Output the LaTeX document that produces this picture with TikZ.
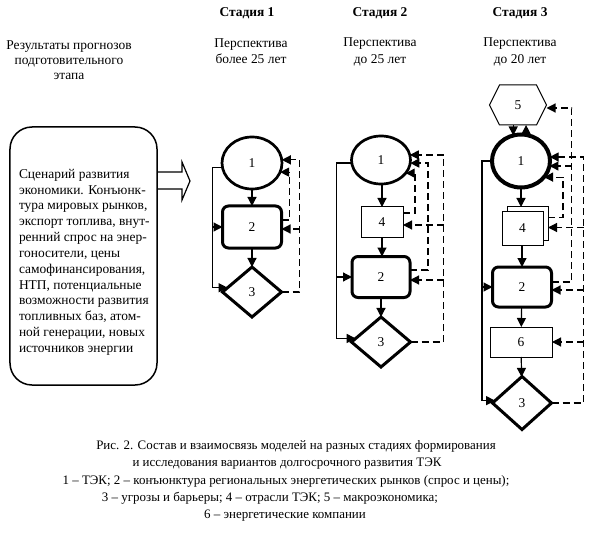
\documentclass[tikz,border=0pt]{standalone}
\usepackage{fontspec}
\setmainfont{Liberation Serif}
\usetikzlibrary{arrows.meta,shapes.geometric}
\begin{document}
\begin{tikzpicture}[x=1bp,y=-1bp,
  every node/.style={font=\fontsize{13.5}{15}\selectfont, inner sep=0pt, outer sep=0pt},
  ell/.style={draw, ellipse, line width=2.7bp},
  rbox/.style={draw, rectangle, rounded corners=6bp, line width=3bp},
  tbox/.style={draw, rectangle, line width=1bp, fill=white},
  dia/.style={draw, diamond, line width=3bp},
  sl/.style={line width=1.2bp},
  dl/.style={line width=1.2bp, dash pattern=on 7bp off 4bp},
  tip/.style={-{Triangle[length=9bp,width=9bp]}},
  hd/.style={font=\bfseries\fontsize{13.5}{15}\selectfont},
  pr/.style={align=center, font=\fontsize{13.5}{16.5}\selectfont},
  captext/.style={font=\fontsize{13}{15}\selectfont},
]
\useasboundingbox (0,0) rectangle (595,537);

% ---- left part ----
\node[pr, font=\fontsize{13.5}{15}\selectfont] (res) at (69,60) {Результаты прогнозов\\подготовительного\\этапа};
\node[draw, rounded corners=22bp, line width=1.5bp, minimum width=147bp, minimum height=258bp] (lbox) at (83.5,256) {};
\node[align=left, anchor=north west, font=\fontsize{13.5}{15.9}\selectfont] (ltext) at (19,169)
 {Сценарий развития\\экономики. Конъюнк-\\тура мировых рынков,\\экспорт топлива, внут-\\ренний спрос на энер-\\гоносители, цены\\самофинансирования,\\НТП, потенциальные\\возможности развития\\топливных баз, атом-\\ной генерации, новых\\источников энергии};
\draw[line width=1.2bp] (lbox.east |- 0,172) -- (182,172) -- (182,162) -- (190,181) -- (182,200) -- (182,189) -- (lbox.east |- 0,189);

% ---- headings ----
\node[hd] (h1) at (247,13) {Стадия 1};
\node[hd] (h2) at (380,13) {Стадия 2};
\node[hd] (h3) at (520,13) {Стадия 3};
\node[pr] (p1) at (251,51) {Перспектива\\более 25 лет};
\node[pr] (p2) at (380,52) {Перспектива\\до 25 лет};
\node[pr] (p3) at (520,52) {Перспектива\\до 20 лет};

% ---- stage 1 ----
\node[ell, minimum width=60bp, minimum height=52bp] (s1-1) at (252,163) {1};
\node[rbox, minimum width=59bp, minimum height=42bp] (s1-2) at (252,227) {2};
\node[dia, minimum width=59bp, minimum height=50bp] (s1-3) at (252,292) {3};
\draw[sl,tip] (s1-1) -- (s1-2);
\draw[sl,tip] (s1-2) -- (s1-3);
\coordinate (s1-L) at ([xshift=-10bp]s1-1.188);
\draw[sl,tip] (s1-1.188) -- (s1-L) |- (s1-3.170);
\draw[sl,tip] (s1-L |- s1-2.west) -- (s1-2.west);
\draw[dl,tip] (s1-3.east) -- ++(18,0) coordinate (s1-R) |- (s1-1.6);
\draw[dl,tip] ([yshift=7bp]s1-2.east) -- ++(8,0) |- (s1-1.-18);
\coordinate (s1-2in) at ([yshift=-2bp]s1-2.east);
\draw[dl,tip] (s1-R |- s1-2in) -- (s1-2in);

% ---- stage 2 ----
\node[ell, minimum width=59bp, minimum height=48bp] (s2-1) at (381,160) {1};
\node[tbox, minimum width=42bp, minimum height=30bp] (s2-4) at (382,222) {4};
\node[rbox, minimum width=58bp, minimum height=41bp] (s2-2) at (381,277) {2};
\node[dia, minimum width=59bp, minimum height=50bp] (s2-3) at (381,342) {3};
\draw[sl,tip] (s2-1.south -| s2-4) -- (s2-4);
\draw[sl,tip] (s2-4) -- (s2-4 |- s2-2.north);
\draw[sl,tip] (s2-2) -- (s2-3);
\coordinate (s2-L) at ([xshift=-15bp]s2-1.186);
\draw[sl,tip] (s2-1.186) -- (s2-L) |- (s2-3.172);
\draw[sl,tip] (s2-L |- s2-2.west) -- (s2-2.west);
\draw[dl,tip] (s2-3.east) -- ++(33,0) coordinate (s2-R) |- (s2-1.10);
\draw[dl,tip] ([yshift=7bp]s2-2.east) -- ++(18,0) |- (s2-1.-6);
\draw[dl,tip] ([yshift=9bp]s2-4.east) -- ++(12,0) |- (s2-1.-28);
\coordinate (s2-4in) at ([yshift=-3bp]s2-4.east);
\draw[dl,tip] (s2-R |- s2-4in) -- (s2-4in);
\coordinate (s2-2in) at ([yshift=-3bp]s2-2.east);
\draw[dl,tip] (s2-R |- s2-2in) -- (s2-2in);

% ---- stage 3 ----
\node[minimum width=57bp, minimum height=40bp] (s3-5) at (518,105) {5};
\draw[line width=1bp] ([xshift=10bp]s3-5.north west) -- ([xshift=-10bp]s3-5.north east) -- (s3-5.east)
  -- ([xshift=-10bp]s3-5.south east) -- ([xshift=10bp]s3-5.south west) -- (s3-5.west) -- cycle;
\node[ell, line width=4bp, minimum width=58bp, minimum height=53bp] (s3-1) at (521,161) {1};
\node[tbox, minimum width=41bp, minimum height=33bp] (s3-4b) at (527.5,223.5) {};
\node[tbox, minimum width=41bp, minimum height=33bp] (s3-4) at (522.5,228.5) {4};
\node[rbox, minimum width=59bp, minimum height=40bp] (s3-2) at (522,287) {2};
\node[tbox, minimum width=62bp, minimum height=30bp] (s3-6) at (521,342) {6};
\node[dia, minimum width=59bp, minimum height=53bp] (s3-3) at (522,403) {3};
\draw[sl,tip] (s3-5.south -| s3-1.107) -- (s3-1.107);
\draw[sl,tip] (s3-1.79) -- (s3-5.south -| s3-1.79);
\draw[sl,tip] (s3-1.south) -- (s3-1.south |- s3-4b.north);
\draw[sl,tip] (s3-4.south -| s3-2) -- (s3-2);
\draw[sl,tip] (s3-2) -- (s3-6);
\draw[sl,tip] (s3-6) -- (s3-3);
\coordinate (s3-L) at ([xshift=-10bp]s3-1.west);
\draw[sl,tip] (s3-1.west) -- (s3-L) |- (s3-3.175);
\draw[sl,tip] (s3-L |- s3-2.west) -- (s3-2.west);
\draw[dl,tip] (s3-3.east) -- ++(32,0) coordinate (s3-R) |- (s3-1.8);
\coordinate (s3-5in) at ([yshift=-3bp]s3-5.east);
\draw[dl,tip] ([yshift=5bp]s3-2.east) -- ++(20,0) coordinate (s3-M) |- (s3-5in);
\draw[dl,tip] (s3-M |- s3-1.-10) -- (s3-1.-10);
\draw[dl,tip] ([yshift=6bp]s3-4b.east) -- ++(15,0) |- (s3-1.-35);
\coordinate (s3-4in) at ([yshift=-4bp]s3-4b.east);
\draw[dl,tip] (s3-R |- s3-4in) -- (s3-4in);
\coordinate (s3-2in) at ([yshift=-3bp]s3-2.east);
\draw[dl,tip] (s3-R |- s3-2in) -- (s3-2in);
\draw[dl,tip] (s3-R |- s3-6.east) -- (s3-6.east);

% ---- caption ----
\node[captext] (c1) at (296,446) {Рис. 2. Состав и взаимосвязь моделей на разных стадиях формирования};
\node[captext] (c2) at (287,463.5) {и исследования вариантов долгосрочного развития ТЭК};
\node[captext] (c3) at (286,481) {1 – ТЭК; 2 – конъюнктура региональных энергетических рынков (спрос и цены);};
\node[captext] (c4) at (270,498.5) {3 – угрозы и барьеры; 4 – отрасли ТЭК; 5 – макроэкономика;};
\node[captext] (c5) at (285,516) {6 – энергетические компании};
\end{tikzpicture}
\end{document}
